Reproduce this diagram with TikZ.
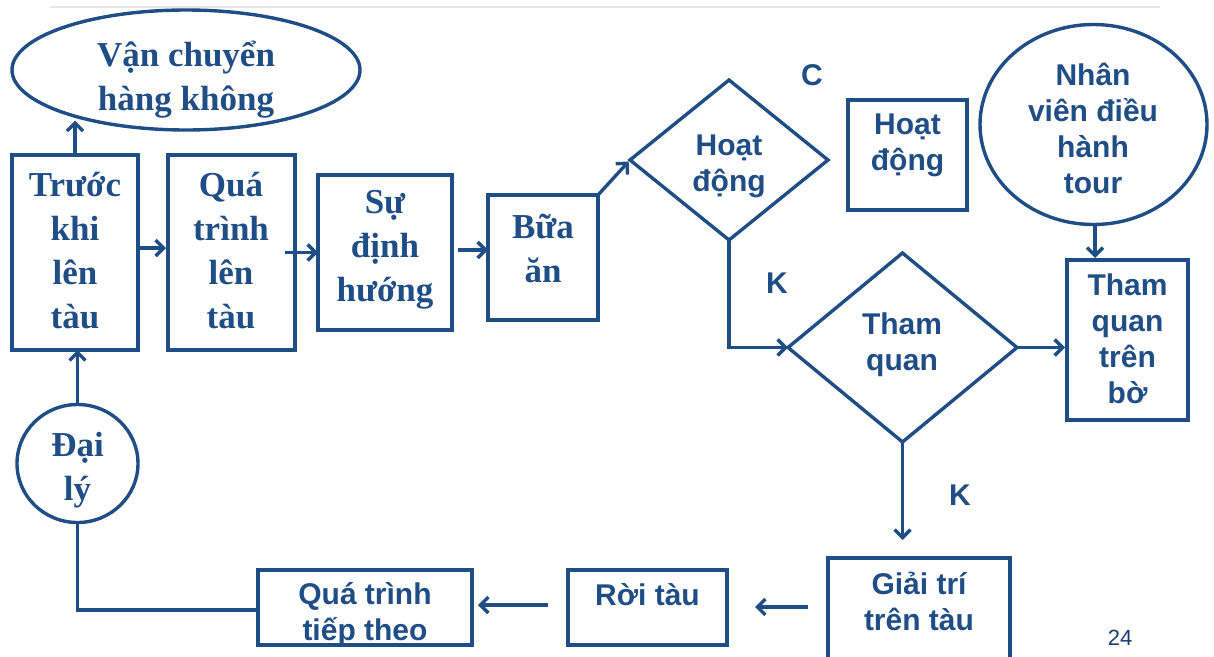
\documentclass[tikz,border=0pt]{standalone}
\usepackage{fontspec}
\setmainfont{Liberation Serif}
\newfontfamily\arialf{Liberation Sans}
\usetikzlibrary{arrows.meta,shapes.geometric}
\definecolor{dblue}{RGB}{31,77,134}
\tikzset{
  shp/.style={draw=dblue, line width=3.4pt, inner sep=0pt, outer sep=0pt},
  boxs/.style={shp, rectangle},
  ell/.style={shp, ellipse},
  dia/.style={shp, diamond},
  ts/.style={text=dblue, inner sep=0pt, align=center, font=\fontsize{35}{44}\selectfont\bfseries},
  ta/.style={text=dblue, inner sep=0pt, align=center, font=\arialf\fontsize{30}{36}\selectfont\bfseries},
  arr/.style={draw=dblue, line width=3.4pt, -{Straight Barb[length=8pt,width=16pt]}},
  ln/.style={draw=dblue, line width=3.4pt}
}
\begin{document}
\begin{tikzpicture}[x=1pt,y=-1pt]
\useasboundingbox (0,0) rectangle (1214,656);
\draw[black!10, line width=1.2pt] (50,7) -- (1160,7);
% shapes
\node[ell, minimum width=348pt, minimum height=120pt] (vc) at (186,70) {};
\node[boxs, minimum width=126pt, minimum height=195pt] (b1) at (75,252.5) {};
\node[boxs, minimum width=127pt, minimum height=195pt] (b2) at (231.5,252.5) {};
\node[boxs, minimum width=134pt, minimum height=155pt] (b3) at (385,252.5) {};
\node[boxs, minimum width=110pt, minimum height=125pt] (b4) at (543,257.5) {};
\node[dia, minimum width=198pt, minimum height=160pt, aspect=1.2375] (d1) at (729,160) {};
\node[boxs, minimum width=119pt, minimum height=110pt] (b5) at (907.5,155) {};
\node[ell, minimum width=227pt, minimum height=200pt] (nv) at (1093.5,124.5) {};
\node[boxs, minimum width=121pt, minimum height=160pt] (tq) at (1127.5,340) {};
\node[dia, minimum width=229pt, minimum height=189pt, aspect=1.2116] (d2) at (902.5,347.5) {};
\node[boxs, minimum width=182pt, minimum height=106pt] (gt) at (919,611) {};
\node[boxs, minimum width=159pt, minimum height=75pt] (rt) at (647.5,607.5) {};
\node[boxs, minimum width=214pt, minimum height=75pt] (qt) at (365,607.5) {};
\node[ell, minimum width=121pt, minimum height=118pt] (dl) at (77.5,463.5) {};
% texts
\node[ts] (tvc) at (186,80) {Vận chuyển\\hàng không};
\node[ts] (tb1) at (75,251) {Trước\\khi\\lên\\tàu};
\node[ts] (tb2) at (231,251) {Quá\\trình\\lên\\tàu};
\node[ts] (tb3) at (385,250) {Sự\\định\\hướng};
\node[ts] (tb4) at (543,248) {Bữa\\ăn};
\node[ta] (td1) at (729,166) {Hoạt\\động};
\node[ta] (tb5) at (907.5,145) {Hoạt\\động};
\node[ta] (tnv) at (1093,128) {Nhân\\viên điều\\hành\\tour};
\node[ta] (ttq) at (1127.5,339) {Tham\\quan\\trên\\bờ};
\node[ta] (td2) at (902,345) {Tham\\quan};
\node[ta] (tgt) at (919,601) {Giải trí\\trên tàu};
\node[ta] (trt) at (647.5,595) {Rời tàu};
\node[ta] (tqt) at (365,615) {Quá trình\\tiếp theo};
\node[ts] (tdl) at (77.5,470) {Đại\\lý};
\node[ta] (lc) at (812,75) {C};
\node[ta] (lk1) at (777,283) {K};
\node[ta] (lk2) at (960,495) {K};
\node[text=dblue!80!black, inner sep=0pt, font=\arialf\fontsize{22}{24}\selectfont] (pg) at (1120,638) {24};
% connectors
\draw[arr, shorten >=5pt] (b1.north) -- (b1.north |- vc.202.5);
\draw[arr, shorten <=2pt, shorten >=2pt] (b1.east |- 0,248) -- (b2.west |- 0,248);
\draw[arr, shorten <=-10pt] (b2.east) -- (b3.west);
\draw[arr, shorten <=6pt] (b3.east |- 0,250) -- (b4.west |- 0,250);
\draw[arr, shorten >=2pt] (b4.north east) -- (d1.west);
\draw[arr] (d1.south) |- (d2.west);
\draw[arr, shorten >=2pt] (d2.east) -- (d2.east -| tq.west);
\draw[arr, shorten >=2pt] (nv.south -| 1095,0) -- (tq.north -| 1095,0);
\draw[arr, shorten >=18pt] (d2.south) -- (d2.south |- gt.north);
\draw[arr, shorten <=20pt, shorten >=28pt] (gt.west |- 0,607) -- (rt.east |- 0,607);
\draw[arr, shorten <=20pt, shorten >=6pt] (rt.west |- 0,605) -- (qt.east |- 0,605);
\draw[ln] (qt.west |- 0,610) -| (dl.south);
\draw[arr] (dl.north) -- (dl.north |- b1.south);
\end{tikzpicture}
\end{document}
